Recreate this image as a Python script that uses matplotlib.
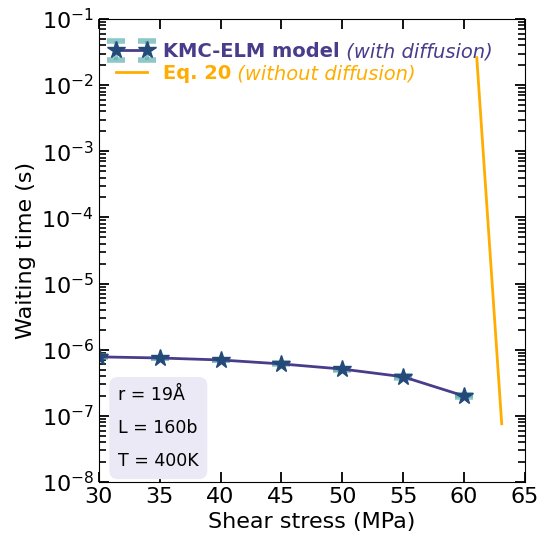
import numpy as np
import matplotlib
matplotlib.use("Agg")
import matplotlib.pyplot as plt
from matplotlib.ticker import NullFormatter, FixedLocator

# KMC-ELM model (with diffusion)
stress_kmc = [30, 35, 40, 45, 50, 55, 60]
wait_kmc = [7.8e-7, 7.5e-7, 7.0e-7, 6.1e-7, 5.1e-7, 3.9e-7, 2.0e-7]
err_kmc = [0.1e-7, 0.1e-7, 0.1e-7, 0.1e-7, 0.1e-7, 0.1e-7, 0.1e-7]

# Eq. 20 (without diffusion)
stress_eq = [61.05, 63.1]
wait_eq = [2.6e-2, 7.6e-8]

params_text = "r = 19Å\nL = 160b\nT = 400K"

purple = '#483d8b'
star_col = '#234a78'
teal = '#5fb0b0'
orange = '#ffad00'

plt.rcParams['font.family'] = 'DejaVu Sans'
plt.rcParams['mathtext.fontset'] = 'dejavusans'

fig = plt.figure(figsize=(5.49, 5.41), dpi=100)
ax = fig.add_axes([0.180, 0.109, 0.776, 0.856])

kmc = ax.errorbar(stress_kmc, wait_kmc, yerr=err_kmc, color=purple, lw=2,
                  marker='*', ms=13, mfc=star_col, mec=star_col,
                  ecolor=teal, elinewidth=3, capsize=6.5, capthick=4,
                  label='KMC-ELM model')
for c in kmc.lines[1]:
    c.set_alpha(0.7)
for c in kmc.lines[2]:
    c.set_alpha(0.7)
eq, = ax.plot(stress_eq, wait_eq, color=orange, lw=2, label='Eq. 20')

ax.set_xlim(30, 65)
ax.set_xticks(np.arange(30, 66, 5))
ax.set_yscale('log')
ax.set_ylim(1e-8, 1e-1)
ax.yaxis.set_minor_locator(FixedLocator([m * 10.0**k for k in range(-8, -1) for m in range(2, 10)]))
ax.yaxis.set_minor_formatter(NullFormatter())
ax.tick_params(which='both', direction='in', top=True, right=True, labelsize=16)
ax.tick_params(axis='y', which='minor', length=5, width=1.2)
ax.tick_params(which='major', length=7, width=1.3)

ax.set_xlabel('Shear stress (MPa)', fontsize=16)
ax.set_ylabel('Waiting time (s)', fontsize=16)

leg = ax.legend([kmc, eq], ['KMC-ELM model', 'Eq. 20'], loc='upper left',
                frameon=False, fontsize=14, handlelength=2.2, numpoints=2,
                handletextpad=0.5, borderaxespad=0.2, labelspacing=0.15,
                bbox_to_anchor=(0.0, 0.975))
texts = leg.get_texts()
texts[0].set_color(purple)
texts[0].set_fontweight('bold')
texts[1].set_color(orange)
texts[1].set_fontweight('bold')

# italic parts of legend labels, drawn after the legend so its text is laid out
ax.annotate(' (with diffusion)', xy=(1, 0), xycoords=texts[0], fontsize=14,
            style='italic', color=purple, ha='left', va='bottom', zorder=10)
ax.annotate(' (without diffusion)', xy=(1, 0), xycoords=texts[1], fontsize=14,
            style='italic', color=orange, ha='left', va='bottom', zorder=10)

ax.text(0.045, 0.025, params_text, transform=ax.transAxes, fontsize=12.5,
        linespacing=2.1, ha='left', va='bottom',
        bbox=dict(boxstyle='round,pad=0.5,rounding_size=0.5',
                  facecolor='#ebe9f5', edgecolor='none'))

fig.savefig('out.png', dpi=100)
